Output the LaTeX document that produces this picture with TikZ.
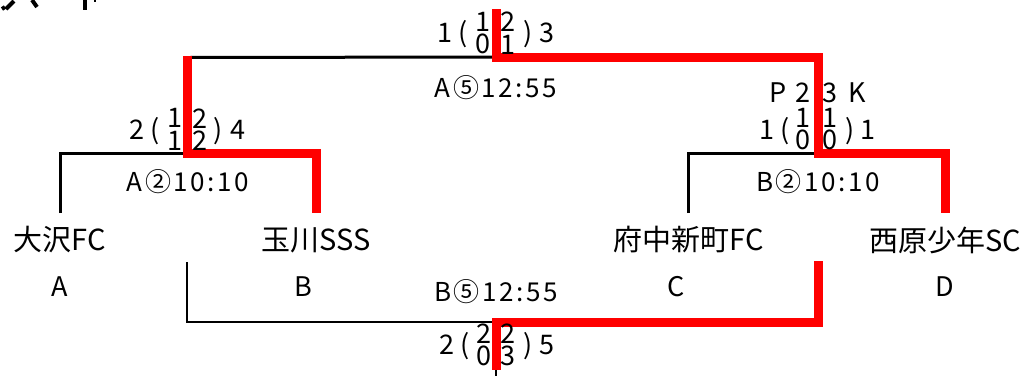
\documentclass[tikz,border=0pt]{standalone}
\usepackage{fontspec}
\setmainfont{Noto Sans CJK JP}
\begin{document}
\begin{tikzpicture}[x=1pt,y=-1pt,
  win/.style={draw=red,line width=9pt,line join=miter},
  lose/.style={draw=black,line width=3pt,line join=miter},
  thinl/.style={draw=black,line width=1.5pt},
  team/.style={font=\fontsize{29}{29}\selectfont,inner sep=0pt,anchor=center},
  letter/.style={font=\fontsize{27}{27}\selectfont,inner sep=0pt},
  lab/.style={font=\fontsize{26}{26}\selectfont\addfontfeature{LetterSpace=10},inner sep=0pt},
  sc/.style={font=\fontsize{27}{27}\selectfont,inner sep=0pt,text height=19pt,text depth=0pt},
  pair/.style={font=\fontsize{27}{22.5}\selectfont,inner sep=0pt,align=center},
  frag/.style={draw=black,line width=4pt}
]
\useasboundingbox (0,0) rectangle (1029,376);

% cut-off title fragments
\draw[frag] (2,9) -- (5,7);
\draw[frag] (6,9) -- (14,1);
\draw[frag] (32,0) -- (37,7);
\draw[frag] (84.5,0) -- (84.5,10);
\draw[frag,line width=2pt] (95,0) -- (95,2);

% teams
\node[team] (tA) at (60,240) {大沢FC};
\node[team] (tB) at (316,240) {玉川SSS};
\node[team] (tC) at (689,240) {府中新町FC};
\node[team] (tD) at (945,240) {西原少年SC};
\node[letter] (lA) at (60,287) {A};
\node[letter] (lB) at (303,287) {B};
\node[letter] (lC) at (676,287) {C};
\node[letter] (lD) at (945,287) {D};

% bracket coordinates
\coordinate (a0) at (60,213);   \coordinate (a1) at (60,153);
\coordinate (b0) at (316,213);  \coordinate (b1) at (316,153);
\coordinate (c0) at (688,213);  \coordinate (c1) at (688,153);
\coordinate (d0) at (945,213);  \coordinate (d1) at (945,153);
\coordinate (ab) at (187,153);  \coordinate (abT) at (187,55.5);
\coordinate (cd) at (818,153);  \coordinate (cdT) at (818,57);
\coordinate (abL) at (187,57.5);
\coordinate (f) at (496,57);    \coordinate (fT) at (496,9);
% third place
\coordinate (tb0) at (187,262); \coordinate (tb1) at (187,322);
\coordinate (tc0) at (818,261); \coordinate (tc1) at (818,322);
\coordinate (t) at (496,322);   \coordinate (tE) at (496,370);
\coordinate (tEnd) at (496,376);

% losing (black) lines
\draw[lose] (a0) -- (a1) -- (ab);
\draw[lose] (c0) -- (c1) -- (cd);
\draw[lose] (abL) -- (f);
\draw[thinl] (tb0) -- (tb1) -- (t);
\draw[thinl] (tE) -- (tEnd);

% winning (red) lines
\draw[win] (abT) -- (ab) -- (b1) -- (b0);
\draw[win] (fT) -- (f) -- (cdT) -- (cd) -- (d1) -- (d0);
\draw[win] (tc0) -- (tc1) -- (t) -- (tE);

% match labels
\node[lab] (mA5) at (496,88) {A⑤12:55};
\node[lab] (mA2) at (188,182) {A②10:10};
\node[lab] (mB2) at (818,182) {B②10:10};
\node[lab] (mB5) at (496,292) {B⑤12:55};

% final score
\node[sc] at (445,33) {1};
\node[sc] at (463,33) {(};
\node[pair] at (483,33) {1\\0};
\node[pair] at (508,33) {2\\1};
\node[sc] at (528,33) {)};
\node[sc] at (547,33) {3};

% semi A
\node[sc] at (137,130) {2};
\node[sc] at (155,130) {(};
\node[pair] at (175,129.5) {1\\1};
\node[pair] at (200,129.5) {2\\2};
\node[sc] at (218,130) {)};
\node[sc] at (238,130) {4};

% semi B
\node[sc] at (778,93) {P};
\node[sc] at (803,93) {2};
\node[sc] at (830,93) {3};
\node[sc] at (857,93) {K};
\node[sc] at (767,130) {1};
\node[sc] at (785,130) {(};
\node[pair] at (803,129) {1\\0};
\node[pair] at (830,129) {1\\0};
\node[sc] at (850,130) {)};
\node[sc] at (868,130) {1};

% third place score
\node[sc] at (447,345) {2};
\node[sc] at (465,345) {(};
\node[pair] at (484,345) {2\\0};
\node[pair] at (508,345) {2\\3};
\node[sc] at (528,345) {)};
\node[sc] at (547,345) {5};
\end{tikzpicture}
\end{document}
